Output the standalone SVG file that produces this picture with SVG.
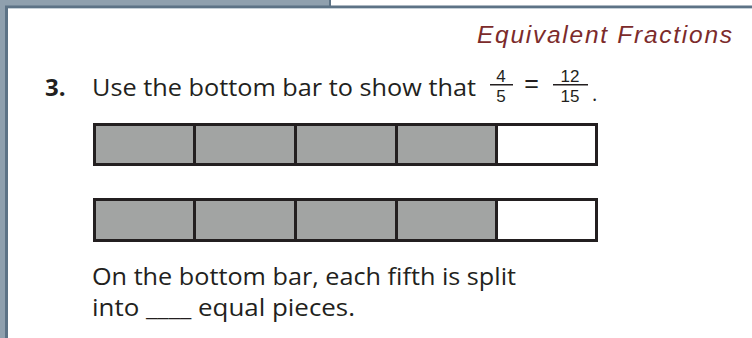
<svg xmlns="http://www.w3.org/2000/svg" width="752" height="338" viewBox="0 0 752 338">
<style>
.frame{fill:#8fa0ae}
.edge{fill:#5d7386}
.body{font-family:"Open Sans","Liberation Sans",sans-serif;fill:#231f20}
.title{font-family:"Liberation Sans",Arial,sans-serif;font-style:italic;fill:#7c2b2b}
.seg{stroke:#231f20;stroke-width:3}
.g{fill:#a2a4a3}
.w{fill:#ffffff}
.num{font-family:"Liberation Sans",Arial,sans-serif;fill:#231f20;text-anchor:middle}
</style>
<rect width="752" height="338" fill="#ffffff"/>
<g id="frame">
<rect class="frame" x="0" y="0" width="6" height="338"/>
<rect class="frame" x="0" y="0" width="330" height="6"/>
<rect class="edge" x="5" y="6" width="3" height="332"/>
<rect class="edge" x="5" y="5.5" width="747" height="2.5"/>
<rect class="edge" x="329" y="0" width="2" height="6"/>
<rect x="8" y="8" width="744" height="1" fill="#c5d0d8"/>
</g>
<g id="title">
<text class="title" x="732" y="43" font-size="24.5" text-anchor="end" textLength="255" lengthAdjust="spacing">Equivalent Fractions</text>
</g>
<g id="question">
<text class="body" x="45" y="96" font-size="24" font-weight="bold">3.</text>
<text class="body" x="92" y="96" font-size="23" textLength="384" lengthAdjust="spacingAndGlyphs">Use the bottom bar to show that</text>
<text class="num" x="501" y="82" font-size="17">4</text>
<rect x="490" y="84" width="23" height="1.5" fill="#231f20"/>
<text class="num" x="501" y="102" font-size="17">5</text>
<text class="num" x="531.5" y="91.5" font-size="25">=</text>
<text class="num" x="570" y="82" font-size="17">12</text>
<rect x="553" y="84" width="35" height="1.5" fill="#231f20"/>
<text class="num" x="570" y="102" font-size="17">15</text>
<text class="body" x="592" y="101" font-size="20">.</text>
</g>
<g id="bar-top">
<rect class="g" x="93" y="123" width="404" height="42"/>
<rect class="w" x="497" y="123" width="101" height="42"/>
<rect class="seg" x="94.5" y="124.5" width="502" height="40" fill="none"/>
<line class="seg" x1="194.5" y1="124" x2="194.5" y2="165"/>
<line class="seg" x1="295.5" y1="124" x2="295.5" y2="165"/>
<line class="seg" x1="396.5" y1="124" x2="396.5" y2="165"/>
<line class="seg" x1="496.5" y1="124" x2="496.5" y2="165"/>
</g>
<g id="bar-bottom">
<rect class="g" x="93" y="198" width="404" height="44"/>
<rect class="w" x="497" y="198" width="101" height="44"/>
<rect class="seg" x="94.5" y="199.5" width="502" height="41" fill="none"/>
<line class="seg" x1="194.5" y1="199" x2="194.5" y2="241"/>
<line class="seg" x1="295.5" y1="199" x2="295.5" y2="241"/>
<line class="seg" x1="396.5" y1="199" x2="396.5" y2="241"/>
<line class="seg" x1="496.5" y1="199" x2="496.5" y2="241"/>
</g>
<g id="prompt">
<text class="body" x="92" y="285" font-size="23" textLength="424" lengthAdjust="spacingAndGlyphs">On the bottom bar, each fifth is split</text>
<text class="body" x="92" y="316" font-size="23" textLength="263" lengthAdjust="spacingAndGlyphs">into ____ equal pieces.</text>
</g>
</svg>
